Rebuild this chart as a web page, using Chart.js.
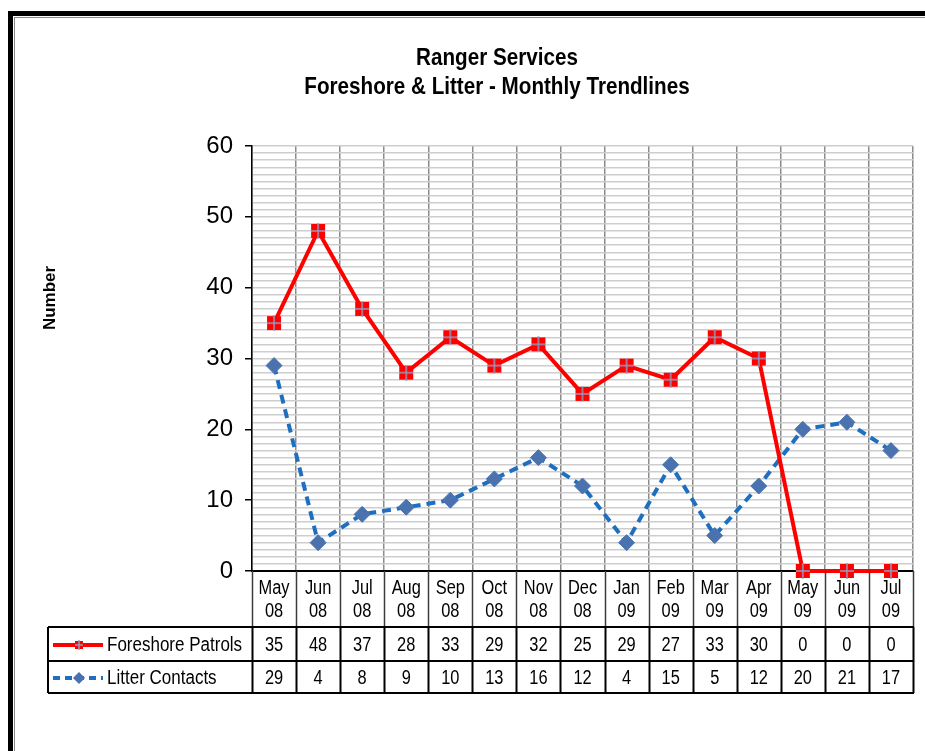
<!DOCTYPE html>
<html>
<head>
<meta charset="utf-8">
<title>Ranger Services</title>
<script src="https://cdn.jsdelivr.net/npm/chart.js@4.4.1/dist/chart.umd.min.js"></script>
<style>
  html, body { margin: 0; padding: 0; background: #fff; overflow: hidden; }
  #frame { position: absolute; left: 8px; top: 11px; width: 960px; height: 780px;
           border-left: 5px solid #000; border-top: 5px solid #000; }
  #frame::after { content: ''; position: absolute; left: 1px; top: 1px; right: 0; bottom: 0;
                  border-left: 1px solid #8a8a8a; border-top: 1px solid #8a8a8a; }
  #wrap { position: absolute; left: 0; top: 0; width: 925px; height: 751px; }
</style>
</head>
<body>
<div id="frame"></div>
<div id="wrap"><canvas id="trend_canvas" width="925" height="751"></canvas></div>
<script>
// monthly figures
const months = [['May','08'],['Jun','08'],['Jul','08'],['Aug','08'],['Sep','08'],['Oct','08'],['Nov','08'],
	['Dec','08'],['Jan','09'],['Feb','09'],['Mar','09'],['Apr','09'],['May','09'],['Jun','09'],['Jul','09']];
const patrols = [35, 48, 37, 28, 33, 29, 32, 25, 29, 27, 33, 30, 0, 0, 0];
const litter = [29, 4, 8, 9, 10, 13, 16, 12, 4, 15, 5, 12, 20, 21, 17];
const seriesNames = ['Foreshore Patrols', 'Litter Contacts'];
const yLabels = [0, 10, 20, 30, 40, 50, 60];
const titleLines = ['Ranger Services', 'Foreshore & Litter - Monthly Trendlines'];
const yTitle = 'Number';

const plain = "'Liberation Sans', Arial, sans-serif";
const squeeze = 0.82;   // no narrow face installed, so condense by hand
const red = '#ff0000';
const blue = '#1f6fc0';
const diamond = '#4a72ae';

// red square with a little cross, used for the patrol points
function squareMarker(size) {
	const c = document.createElement('canvas');
	c.width = size; c.height = size;
	const g = c.getContext('2d');
	g.fillStyle = red;
	g.fillRect(1, 1, size - 2, size - 2);
	g.strokeStyle = '#8e9ec4';
	g.lineWidth = 1.5;
	g.beginPath();
	g.moveTo(size / 2, 0); g.lineTo(size / 2, size);
	g.moveTo(1, size / 2); g.lineTo(size - 1, size / 2);
	g.stroke();
	return c;
}
const bigSquare = squareMarker(16);
const smallSquare = squareMarker(10);

function narrowText(ctx, text, x, y, align, k) {
	ctx.save();
	ctx.translate(x, y);
	ctx.scale(k || squeeze, 1);
	ctx.textAlign = align || 'center';
	ctx.fillText(text, 0, 0);
	ctx.restore();
}

const tablePlugin = {
	id: 'trendTable',
	afterDraw(chart) {
		const {ctx, chartArea: a, scales: {x}} = chart;
		const half = (x.getPixelForValue(1) - x.getPixelForValue(0)) / 2;
		const left = 48, rowTop = 627, rowMid = 661, rowBottom = 693;
		ctx.save();

		// titles
		ctx.fillStyle = '#000';
		ctx.textBaseline = 'middle';
		ctx.font = 'bold 24px ' + plain;
		narrowText(ctx, titleLines[0], 497, 58, 'center', 0.86);
		narrowText(ctx, titleLines[1], 497, 87, 'center', 0.86);

		ctx.save();
		ctx.translate(50, 298);
		ctx.rotate(-Math.PI / 2);
		ctx.textAlign = 'center';
		ctx.font = 'bold 17px ' + plain;
		ctx.fillText(yTitle, 0, 0);
		ctx.restore();

		// month labels under the axis
		ctx.font = '20px ' + plain;
		months.forEach((m, i) => {
			const cx = x.getPixelForValue(i);
			narrowText(ctx, m[0], cx, 588);
			narrowText(ctx, m[1], cx, 611);
		});

		// separators under the month labels
		ctx.strokeStyle = '#3c3c3c';
		ctx.lineWidth = 1.5;
		ctx.beginPath();
		for (let i = 0; i <= months.length; i++) {
			const bx = Math.round(x.getPixelForValue(i) - half) + 0.5;
			ctx.moveTo(bx, a.bottom);
			ctx.lineTo(bx, rowTop);
		}
		ctx.stroke();

		// data table grid
		ctx.strokeStyle = '#000';
		ctx.lineWidth = 2;
		ctx.beginPath();
		[rowTop, rowMid, rowBottom].forEach(y => { ctx.moveTo(left, y); ctx.lineTo(a.right + 1, y); });
		ctx.moveTo(left, rowTop); ctx.lineTo(left, rowBottom);
		for (let i = 0; i <= months.length; i++) {
			const bx = Math.round(x.getPixelForValue(i) - half) + 0.5;
			ctx.moveTo(bx, rowTop);
			ctx.lineTo(bx, rowBottom);
		}
		ctx.stroke();

		// values
		const rows = [patrols, litter];
		const rowY = [(rowTop + rowMid) / 2 + 1, (rowMid + rowBottom) / 2 + 1];
		rows.forEach((vals, r) => {
			vals.forEach((v, i) => narrowText(ctx, String(v), x.getPixelForValue(i), rowY[r]));
		});

		// legend keys
		seriesNames.forEach((name, r) => narrowText(ctx, name, 107, rowY[r], 'left', 0.85));

		ctx.lineWidth = 4;
		ctx.strokeStyle = red;
		ctx.beginPath();
		ctx.moveTo(53, rowY[0]); ctx.lineTo(103, rowY[0]);
		ctx.stroke();
		ctx.drawImage(smallSquare, 79 - 5, rowY[0] - 5);

		ctx.strokeStyle = blue;
		ctx.setLineDash([7, 5]);
		ctx.beginPath();
		ctx.moveTo(53, rowY[1]); ctx.lineTo(103, rowY[1]);
		ctx.stroke();
		ctx.setLineDash([]);
		ctx.fillStyle = diamond;
		ctx.beginPath();
		ctx.moveTo(79, rowY[1] - 6); ctx.lineTo(85, rowY[1]);
		ctx.lineTo(79, rowY[1] + 6); ctx.lineTo(73, rowY[1]);
		ctx.closePath();
		ctx.fill();

		ctx.restore();
	}
};

const ctx = document.getElementById('trend_canvas').getContext('2d');
const trend_chart = new Chart(ctx, {
	type: 'line',
	data: {
		labels: months,
		datasets: [{
			label: seriesNames[0],
			data: patrols,
			borderColor: red,
			backgroundColor: red,
			borderWidth: 4,
			pointStyle: bigSquare,
			pointRadius: 8,
			clip: false,
			tension: 0
		}, {
			label: seriesNames[1],
			data: litter,
			borderColor: blue,
			backgroundColor: diamond,
			borderWidth: 4,
			borderDash: [9, 6],
			pointStyle: 'rectRot',
			pointRadius: 8,
			pointBorderColor: diamond,
			pointBackgroundColor: diamond,
			pointBorderWidth: 1,
			clip: false,
			tension: 0
		}]
	},
	options: {
		responsive: false,
		animation: false,
		events: [],
		devicePixelRatio: 1,
		layout: { padding: { top: 146, right: 11, bottom: 0, left: 0 } },
		plugins: {
			legend: { display: false },
			title: { display: false },
			tooltip: { enabled: false }
		},
		scales: {
			x: {
				offset: true,
				grid: { offset: true, color: '#8c8c8c', lineWidth: 1.5, drawTicks: false },
				border: { color: '#000', width: 2 },
				ticks: { display: false, autoSkip: false },
				afterFit(scale) { scale.height = 180; }
			},
			y: {
				min: 0,
				max: 60,
				grid: {
					color: '#cdcdcd',
					lineWidth: 1.5,
					tickLength: 7,
					tickWidth: 1.5,
					tickColor: c => yLabels.includes(c.tick.value) ? '#000' : 'transparent'
				},
				border: { color: '#000', width: 1.5 },
				ticks: {
					stepSize: 1,
					color: '#000',
					font: { family: plain, size: 24 },
					padding: 12,
					autoSkip: false,
					callback: v => yLabels.includes(v) ? v : ''
				},
				afterFit(scale) { scale.width = 252; }
			}
		}
	},
	plugins: [tablePlugin]
});
</script>
</body>
</html>
